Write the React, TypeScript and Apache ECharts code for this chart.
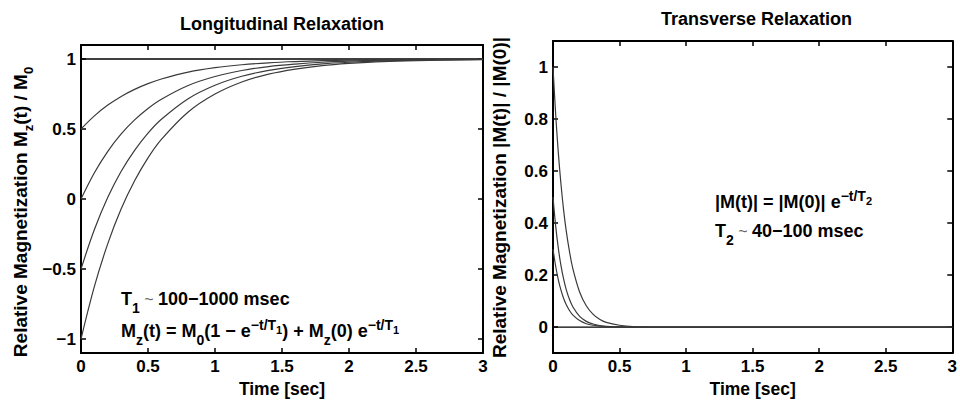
import React, { useEffect, useRef } from "react";
import * as echarts from "echarts";

const FONT = "'Liberation Sans', Arial, Helvetica, sans-serif";

// Longitudinal relaxation (left panel)
const longTimes = [0, 0.1, 0.2, 0.3, 0.4, 0.5, 0.6, 0.8, 1.0, 1.2, 1.4, 1.6, 1.8, 2.0, 2.2, 2.5, 3.0];
const longFromHalf = [0.5, 0.594, 0.671, 0.733, 0.783, 0.824, 0.857, 0.906, 0.938, 0.959, 0.973, 0.982, 0.988, 0.992, 0.995, 0.997, 0.999];
const longFromZero = [0, 0.188, 0.341, 0.465, 0.565, 0.647, 0.713, 0.811, 0.875, 0.918, 0.946, 0.964, 0.977, 0.985, 0.99, 0.995, 0.998];
const longFromMinusHalf = [-0.5, -0.218, 0.012, 0.198, 0.348, 0.471, 0.57, 0.717, 0.813, 0.877, 0.919, 0.946, 0.965, 0.977, 0.985, 0.992, 0.997];
const longFromMinusOne = [-1, -0.624, -0.318, -0.07, 0.13, 0.294, 0.426, 0.622, 0.75, 0.836, 0.892, 0.928, 0.953, 0.969, 0.98, 0.989, 0.996];
const longSteadyTimes = [0, 3];
const longSteady = [1, 1];

// Transverse relaxation (right panel)
const transTimes = [0, 0.02, 0.04, 0.06, 0.08, 0.1, 0.125, 0.15, 0.2, 0.25, 0.3, 0.35, 0.4, 0.5, 0.6, 0.8, 1.0, 3.0];
const transFromOne = [1, 0.819, 0.67, 0.549, 0.449, 0.368, 0.287, 0.223, 0.135, 0.082, 0.05, 0.03, 0.018, 0.007, 0.002, 0.0003, 0, 0];
const transFromHalf = [0.5, 0.389, 0.303, 0.236, 0.184, 0.143, 0.105, 0.077, 0.041, 0.022, 0.012, 0.006, 0.003, 0.001, 0, 0, 0, 0];
const transFromLow = [0.3, 0.234, 0.182, 0.142, 0.11, 0.086, 0.063, 0.046, 0.025, 0.013, 0.007, 0.004, 0.002, 0.001, 0, 0, 0, 0];
const transZeroTimes = [0, 3];
const transZero = [0, 0];

// Tick values
const leftYTicks = [-1, -0.5, 0, 0.5, 1];
const rightYTicks = [0, 0.2, 0.4, 0.6, 0.8, 1];

const zip = (xs: number[], ys: number[]) => xs.map((x, i) => [x, ys[i]]);
const fmt = (v: number) => String(v).replace("-", "\u2212");

const richStyles = (fs: number, lh: number, small: number) => ({
  b: { fontSize: fs, fontWeight: "bold", fontFamily: FONT, fill: "#000", lineHeight: lh },
  sub: { fontSize: small, fontWeight: "bold", fontFamily: FONT, fill: "#000", verticalAlign: "bottom" },
  sup: { fontSize: small, fontWeight: "bold", fontFamily: FONT, fill: "#000", verticalAlign: "top", padding: [3, 0, 0, 0] },
  ss: { fontSize: small - 3, fontWeight: "bold", fontFamily: FONT, fill: "#000", verticalAlign: "top", padding: [9, 0, 0, 0] },
  tl: { fontSize: fs - 2, fontWeight: "normal", fontFamily: FONT, fill: "#666" },
});

const curve = (xi: number, yi: number, xs: number[], ys: number[], color: string, width: number) => ({
  type: "line",
  xAxisIndex: xi,
  yAxisIndex: yi,
  data: zip(xs, ys),
  showSymbol: false,
  symbol: "none",
  smooth: 0.35,
  lineStyle: { color, width },
  silent: true,
});

const axisLine = { show: true, onZero: false, lineStyle: { color: "#000", width: 2 } };
const tickStyle = { show: true, inside: true, length: 5, lineStyle: { color: "#000", width: 1.5 } };
const labelStyle = { color: "#000", fontSize: 17, fontWeight: "bold", fontFamily: FONT, margin: 5 };

const xAx = (grid: number, pos: string, labels: boolean) => ({
  type: "value",
  gridIndex: grid,
  position: pos,
  min: 0,
  max: 3,
  interval: 0.5,
  axisLine,
  axisTick: tickStyle,
  axisLabel: labels ? { ...labelStyle, formatter: fmt } : { show: false },
  splitLine: { show: false },
  name: labels ? "Time [sec]" : "",
  nameLocation: "middle",
  nameGap: 24,
  nameTextStyle: { color: "#000", fontSize: 17.5, fontWeight: "bold", fontFamily: FONT, verticalAlign: "top" },
});

const yAx = (grid: number, pos: string, labels: boolean, min: number, max: number, ticks: number[]) => ({
  type: "value",
  gridIndex: grid,
  position: pos,
  min,
  max,
  axisLine,
  axisTick: { ...tickStyle, customValues: ticks },
  axisLabel: labels ? { ...labelStyle, customValues: ticks, formatter: fmt } : { show: false },
  splitLine: { show: false },
});

const annot = (x: number, y: number, text: string) => ({
  type: "text",
  x,
  y,
  style: {
    text,
    rich: richStyles(18, 32, 14),
    fontSize: 18,
    fontWeight: "bold",
    fontFamily: FONT,
    fill: "#000",
    align: "left",
    verticalAlign: "middle",
  },
});

export default function App() {
  const ref = useRef<HTMLDivElement>(null);
  useEffect(() => {
    document.body.style.margin = "0";
    const chart = echarts.init(ref.current as HTMLDivElement, null, { renderer: "svg" });
    const option: any = {
      animation: false,
      backgroundColor: "#fff",
      grid: [
        { left: 81, top: 45, width: 402, height: 316 },
        { left: 553, top: 41, width: 406, height: 320 },
      ],
      xAxis: [xAx(0, "bottom", true), xAx(0, "top", false), xAx(1, "bottom", true), xAx(1, "top", false)],
      yAxis: [
        yAx(0, "left", true, -1.1, 1.1, leftYTicks),
        yAx(0, "right", false, -1.1, 1.1, leftYTicks),
        yAx(1, "left", true, -0.1, 1.1, rightYTicks),
        yAx(1, "right", false, -0.1, 1.1, rightYTicks),
      ],
      series: [
        curve(0, 0, longSteadyTimes, longSteady, "#000", 1.3),
        curve(0, 0, longTimes, longFromHalf, "#3a3a3a", 1.2),
        curve(0, 0, longTimes, longFromZero, "#3a3a3a", 1.2),
        curve(0, 0, longTimes, longFromMinusHalf, "#3a3a3a", 1.2),
        curve(0, 0, longTimes, longFromMinusOne, "#3a3a3a", 1.2),
        curve(2, 2, transZeroTimes, transZero, "#000", 1.3),
        curve(2, 2, transTimes, transFromOne, "#3a3a3a", 1.2),
        curve(2, 2, transTimes, transFromHalf, "#3a3a3a", 1.2),
        curve(2, 2, transTimes, transFromLow, "#3a3a3a", 1.2),
      ],
      graphic: [
        {
          type: "text", x: 282, y: 23.5,
          style: { text: "Longitudinal Relaxation", fill: "#000", fontSize: 18, fontWeight: "bold", fontFamily: FONT, align: "center", verticalAlign: "middle" },
        },
        {
          type: "text", x: 756.5, y: 19,
          style: { text: "Transverse Relaxation", fill: "#000", fontSize: 18, fontWeight: "bold", fontFamily: FONT, align: "center", verticalAlign: "middle" },
        },
        {
          type: "text", x: 20, y: 212, rotation: Math.PI / 2,
          style: {
            text: "{b|Relative Magnetization M}{sub|z}{b|(t) / M}{sub|0}",
            rich: richStyles(19, 30, 13), fontSize: 19, fontWeight: "bold", fontFamily: FONT, fill: "#000",
            align: "center", verticalAlign: "middle",
          },
        },
        {
          type: "text", x: 499.5, y: 197.5, rotation: Math.PI / 2,
          style: {
            text: "Relative Magnetization |M(t)| / |M(0)|",
            fontSize: 19, fontWeight: "bold", fontFamily: FONT, fill: "#000",
            align: "center", verticalAlign: "middle",
          },
        },
        annot(121, 299, "{b|T}{sub|1}{tl| ~ }{b|100\u22121000 msec}"),
        annot(121, 331, "{b|M}{sub|z}{b|(t) = M}{sub|0}{b|(1 \u2212 e}{sup|\u2212t/T}{ss|1}{b|) + M}{sub|z}{b|(0) e}{sup|\u2212t/T}{ss|1}"),
        annot(715, 202, "{b||M(t)| = |M(0)| e}{sup|\u2212t/T}{ss|2}"),
        annot(715, 231, "{b|T}{sub|2}{tl| ~ }{b|40\u2212100 msec}"),
      ],
    };
    chart.setOption(option);
    return () => chart.dispose();
  }, []);
  return <div ref={ref} style={{ position: "absolute", left: 0, top: 0, width: 960, height: 403 }} />;
}
